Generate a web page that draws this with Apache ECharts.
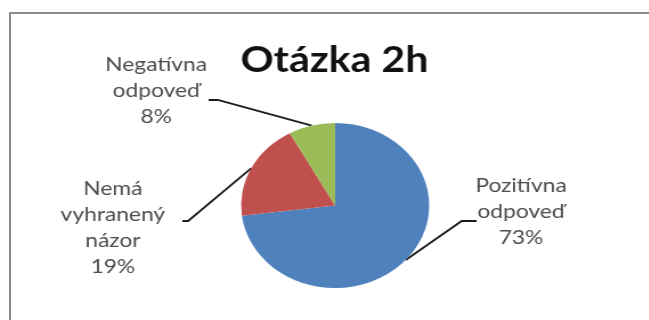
<!DOCTYPE html>
<html>
<head>
<meta charset="utf-8">
<title>Otázka 2h</title>
<script src="https://cdn.jsdelivr.net/npm/echarts@6/dist/echarts.min.js"></script>
<style>
  html, body { margin: 0; padding: 0; background: #fff; overflow: hidden; }
  #wrap { width: 649px; height: 320px; overflow: hidden; position: relative; background: #fff; }
  /* the chart is drawn slightly wide, as in the printed report */
  #chart { position: absolute; left: 0; top: 0; width: 569px; height: 320px; transform: scaleX(1.14); transform-origin: 0 0; }
  /* chart area frame: only its top and left edges fall inside the picture */
  #frame { position: absolute; left: 9px; top: 12px; width: 700px; height: 400px;
           border-left: 2px solid #8c8c8c; border-top: 2px solid #8c8c8c; pointer-events: none; }
</style>
</head>
<body>
<div id="wrap"><div id="chart"></div><div id="frame"></div></div>
<script>
// Answers to question 2h
const titleText = 'Otázka 2h';
const categories = ['Pozitívna\nodpoveď', 'Nemá\nvyhranený\nnázor', 'Negatívna\nodpoveď'];
const values = [73, 19, 8];
const colors = ['#4f81bd', '#c0504d', '#9bbb59'];

// where each label block sits and where its leader line ends (chart px)
const labelPlacement = [
  { x: 457, y: 212, endX: 418, endY: 221, bendX: 405 },
  { x: 99,  y: 228, endX: 160, endY: 221, bendX: 165 },
  { x: 137, y: 91,  endX: 183, endY: 100, bendX: 191 }
];

const chart = echarts.init(document.getElementById('chart'), null, { renderer: 'canvas' });

chart.setOption({
  animation: false,
  title: {
    text: titleText,
    left: 211,
    top: 42,
    padding: 0,
    textStyle: { fontFamily: 'Lato', fontWeight: 'bold', fontSize: 36, color: '#111' }
  },
  series: [{
    type: 'pie',
    center: [294, 205.5],
    radius: 82.5,
    startAngle: 90,
    clockwise: true,
    itemStyle: { borderWidth: 0 },
    label: {
      show: true,
      position: 'outside',
      fontFamily: 'Lato',
      fontSize: 20,
      lineHeight: 26,
      color: '#4d4d4d',
      align: 'center',
      formatter: p => p.name + '\n' + Math.round(p.percent) + '%'
    },
    labelLine: { show: true, lineStyle: { color: '#1a1a1a', width: 1.8 } },
    labelLayout: function (params) {
      const pl = labelPlacement[params.dataIndex];
      const start = params.labelLinePoints[0];
      return {
        x: pl.x,
        y: pl.y,
        align: 'center',
        verticalAlign: 'middle',
        labelLinePoints: [start, [pl.bendX, pl.endY], [pl.endX, pl.endY]]
      };
    },
    data: categories.map((name, i) => ({ name: name, value: values[i], itemStyle: { color: colors[i] } }))
  }]
});
</script>
</body>
</html>
